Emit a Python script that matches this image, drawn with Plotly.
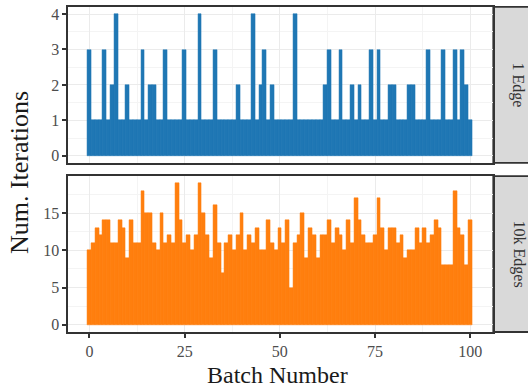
import plotly.graph_objects as go

batches = list(range(101))

# 1 Edge: number of iterations per batch
one_edge = [1] * 101
spikes = {0: 3, 4: 3, 6: 2, 7: 4, 10: 2, 14: 3, 16: 2, 17: 2, 20: 3, 25: 3,
          29: 4, 33: 3, 39: 2, 43: 4, 45: 2, 46: 3, 48: 2, 54: 4, 62: 2, 63: 3,
          66: 3, 69: 2, 71: 2, 74: 3, 76: 3, 79: 2, 80: 2, 84: 2, 85: 2, 89: 3,
          93: 3, 96: 3, 98: 3, 99: 2}
for k, v in spikes.items():
    one_edge[k] = v

# 10k Edges: number of iterations per batch
ten_k_edges = [10, 11, 13, 12, 14, 14, 11, 11, 14, 13,
               9, 14, 11, 11, 18, 15, 15, 11, 10, 15,
               11, 12, 11, 19, 14, 11, 12, 10, 12, 19,
               15, 12, 9, 16, 11, 7, 11, 12, 10, 12,
               15, 10, 12, 11, 13, 10, 10, 14, 11, 10,
               13, 11, 14, 5, 11, 12, 15, 9, 13, 12,
               9, 12, 12, 14, 11, 13, 12, 10, 14, 11,
               17, 14, 12, 11, 11, 12, 17, 13, 10, 13,
               13, 11, 12, 9, 10, 10, 13, 11, 13, 11,
               12, 14, 13, 8, 8, 8, 18, 13, 12, 8,
               14]

x_ticks = [0, 25, 50, 75, 100]
top_ticks = [0, 1, 2, 3, 4]
bottom_ticks = [0, 5, 10, 15]
strip_labels = ["1 Edge", "10k Edges"]

W, H = 528, 387
FONT = "Liberation Serif"
px = lambda v: v / W
py = lambda v: (H - v) / H

x_dom = [px(68.3), px(493.3)]
top_dom = [py(162.7), py(6)]
bot_dom = [py(332.7), py(176)]

fig = go.Figure()
fig.add_trace(go.Bar(x=batches, y=one_edge, width=1, marker_color="#1f77b4",
                     marker_line_color="#1f77b4", marker_line_width=0.5,
                     xaxis="x", yaxis="y", showlegend=False))
fig.add_trace(go.Bar(x=batches, y=ten_k_edges, width=1, marker_color="#ff7f0e",
                     marker_line_color="#ff7f0e", marker_line_width=0.5,
                     xaxis="x2", yaxis="y2", showlegend=False))

grid = "#ebebeb"
minor_grid = "#f4f4f4"
line = "#333333"
LW = 1.8
tickfont = dict(family=FONT, size=16, color="#4d4d4d")

common_x = dict(domain=x_dom, range=[-5.55, 106.05], tickvals=x_ticks,
                showgrid=True, gridcolor=grid, gridwidth=1.3,
                minor=dict(tickvals=[12.5, 37.5, 62.5, 87.5], showgrid=True,
                           gridcolor=minor_grid, gridwidth=0.8, ticks=""),
                showline=True, mirror=True, linecolor=line, linewidth=LW,
                zeroline=False, tickfont=tickfont)

fig.update_layout(
    width=W, height=H, margin=dict(l=0, r=0, t=0, b=0),
    paper_bgcolor="white", plot_bgcolor="white", bargap=0,
    xaxis=dict(common_x, anchor="y", showticklabels=False, ticks=""),
    xaxis2=dict(common_x, anchor="y2", ticks="outside", ticklen=4,
                tickcolor=line, tickwidth=1.5),
    yaxis=dict(domain=top_dom, range=[-0.2, 4.2], tickvals=top_ticks,
               showgrid=True, gridcolor=grid, gridwidth=1.3,
               minor=dict(tickvals=[0.5, 1.5, 2.5, 3.5], showgrid=True,
                          gridcolor=minor_grid, gridwidth=0.8, ticks=""),
               showline=True, mirror=True, linecolor=line, linewidth=LW,
               zeroline=False, ticks="outside", ticklen=4, tickcolor=line,
               tickwidth=1.5, tickfont=tickfont, anchor="x"),
    yaxis2=dict(domain=bot_dom, range=[-0.95, 19.95], tickvals=bottom_ticks,
                showgrid=True, gridcolor=grid, gridwidth=1.3,
                minor=dict(tickvals=[2.5, 7.5, 12.5, 17.5], showgrid=True,
                           gridcolor=minor_grid, gridwidth=0.8, ticks=""),
                showline=True, mirror=True, linecolor=line, linewidth=LW,
                zeroline=False, ticks="outside", ticklen=4, tickcolor=line,
                tickwidth=1.5, tickfont=tickfont, anchor="x2"),
)

# facet strips
for dom, label in zip([top_dom, bot_dom], strip_labels):
    fig.add_shape(type="rect", xref="paper", yref="paper",
                  x0=px(493.3), x1=px(530), y0=dom[0], y1=dom[1],
                  fillcolor="#d9d9d9", line=dict(color=line, width=LW), layer="below")
    fig.add_annotation(xref="paper", yref="paper", x=px(518.5), y=(dom[0] + dom[1]) / 2,
                       xanchor="center", yanchor="middle",
                       text=label, textangle=90, showarrow=False,
                       font=dict(family=FONT, size=16, color="#333333"))

fig.add_annotation(xref="paper", yref="paper", x=px(19), y=py(173),
                   xanchor="center", yanchor="middle",
                   text="Num. Iterations", textangle=-90, showarrow=False,
                   font=dict(family=FONT, size=26, color="#1a1a1a"))
fig.add_annotation(xref="paper", yref="paper", x=px(277), y=py(376),
                   xanchor="center", yanchor="middle",
                   text="Batch Number", showarrow=False,
                   font=dict(family=FONT, size=24, color="#1a1a1a"))

fig.write_html("out.html", config={"displayModeBar": False},
               post_script="document.body.style.margin='0';document.body.style.overflow='hidden';")
